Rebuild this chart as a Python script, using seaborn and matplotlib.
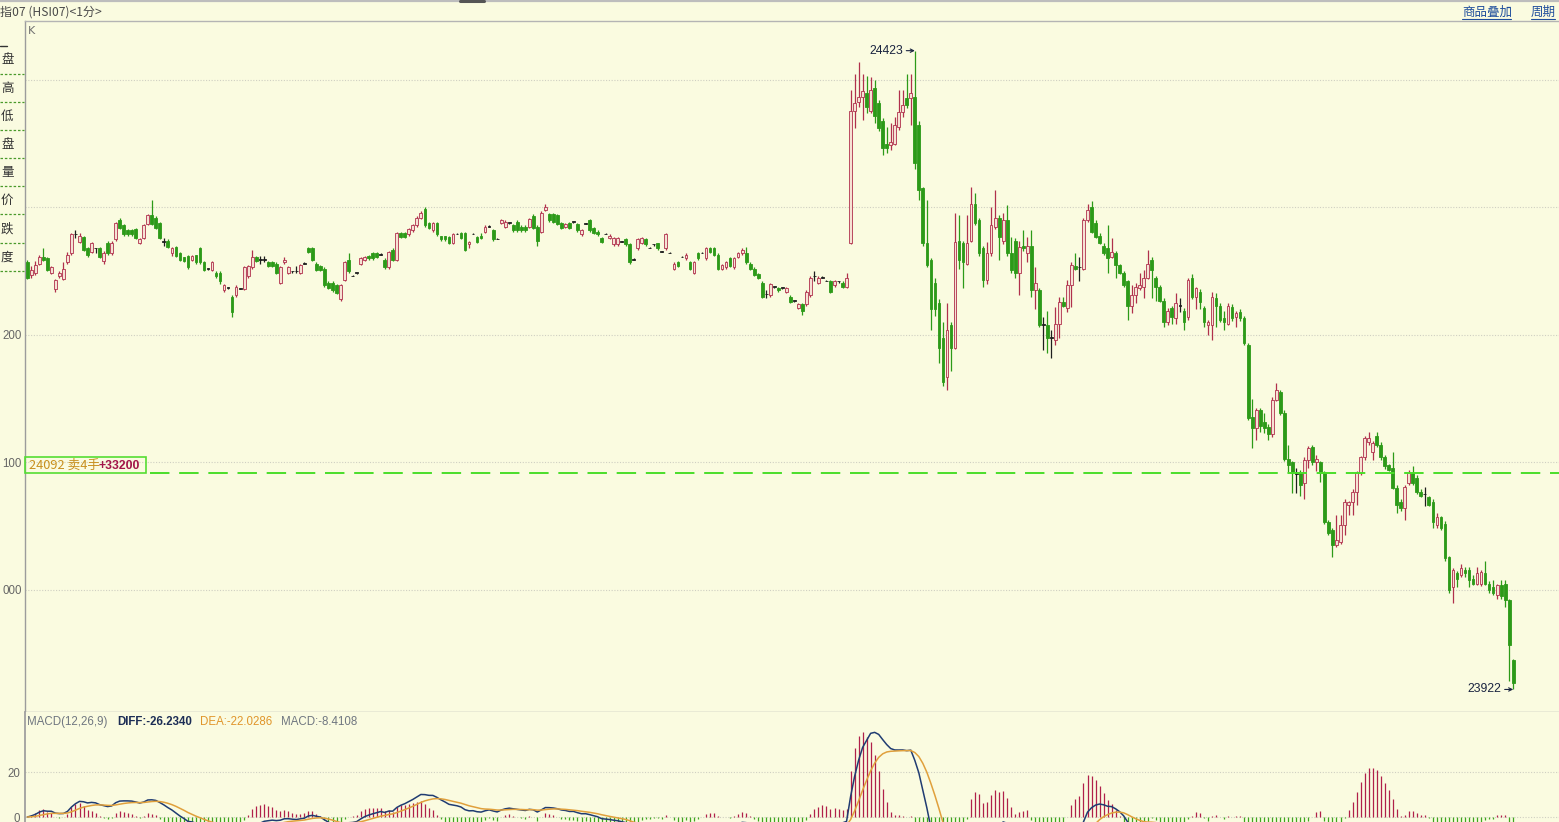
import numpy as np
import pandas as pd
import matplotlib
matplotlib.use("Agg")
import matplotlib.pyplot as plt
import seaborn as sns
from matplotlib.patches import Rectangle

# ---------------- data: 1-minute bars (open, high, low, close) ----------------
bars_a = [
    (24257,24259,24244,24245),(24247,24254,24245,24251),(24249,24258,24247,24255),(24256,24263,24255,24261),
    (24261,24268,24258,24259),(24260,24261,24250,24251),(24249,24254,24248,24253),(24236,24244,24234,24243),
    (24246,24250,24245,24249),(24244,24257,24243,24252),(24257,24265,24256,24263),(24264,24280,24263,24279),
    (24279,24282,24276,24279),(24273,24280,24272,24278),(24277,24278,24266,24267),(24268,24269,24261,24263),
    (24265,24273,24264,24272),(24268,24268,24264,24268),(24268,24269,24260,24261),(24258,24266,24256,24264),
    (24272,24274,24263,24264),(24264,24274,24263,24272),(24275,24289,24274,24288),(24290,24292,24283,24284),
    (24286,24287,24278,24279),(24282,24283,24278,24279),(24282,24283,24278,24279),(24283,24284,24275,24276),
    (24272,24276,24271,24275),(24276,24287,24275,24286),(24287,24295,24286,24294),(24294,24306,24286,24287),
    (24292,24293,24283,24284),(24288,24289,24275,24276),(24273,24276,24270,24273),(24274,24275,24268,24269),
    (24264,24269,24262,24268),(24269,24270,24261,24262),(24264,24265,24258,24259),(24261,24261,24257,24258),
    (24262,24263,24252,24253),(24259,24263,24258,24262),(24263,24263,24256,24257),(24268,24269,24256,24257),
    (24257,24258,24250,24251),(24252,24252,24251,24252),(24251,24258,24250,24257),(24249,24250,24245,24246),
    (24249,24250,24240,24242),(24235,24240,24234,24239),
]
bars_b = [
    (24237,24237,24236,24237),(24230,24231,24214,24218),(24231,24239,24230,24238),(24236,24237,24236,24236),
    (24236,24254,24235,24253),(24246,24255,24245,24254),(24253,24267,24252,24261),(24261,24262,24257,24258),
    (24259,24262,24256,24259),(24259,24262,24257,24259),(24257,24258,24253,24254),(24257,24258,24253,24254),
    (24256,24257,24248,24249),(24241,24254,24240,24253),(24257,24261,24256,24259),(24249,24254,24248,24253),
    (24250,24250,24249,24250),(24250,24254,24249,24250),(24249,24256,24248,24255),(24256,24257,24256,24256),
    (24268,24269,24264,24265),(24268,24269,24258,24259),(24256,24257,24250,24251),(24254,24255,24250,24251),
    (24252,24253,24238,24239),(24241,24242,24236,24237),(24241,24242,24234,24235),(24239,24240,24232,24233),
    (24228,24240,24227,24239),(24243,24258,24242,24257),(24259,24264,24249,24250),(24246,24247,24246,24246),
    (24249,24249,24248,24249),(24256,24261,24255,24260),(24259,24262,24258,24261),(24262,24263,24259,24260),
    (24264,24265,24259,24260),(24264,24265,24260,24261),(24263,24264,24263,24263),(24259,24260,24252,24253),
    (24253,24266,24252,24265),(24267,24268,24258,24259),(24259,24281,24258,24280),(24280,24281,24276,24277),
    (24280,24281,24276,24277),(24279,24284,24278,24283),(24282,24287,24281,24286),(24286,24293,24285,24292),
    (24292,24297,24291,24296),
]
bars_c = [
    (24299,24300,24285,24286),(24288,24289,24283,24284),(24282,24289,24281,24288),(24288,24289,24278,24279),
    (24278,24278,24274,24275),(24278,24278,24274,24275),(24277,24278,24271,24272),(24272,24280,24271,24279),
    (24279,24280,24279,24279),(24280,24281,24275,24276),(24280,24281,24266,24267),(24271,24274,24268,24273),
    (24279,24280,24279,24279),(24277,24278,24272,24273),(24278,24280,24275,24276),(24281,24286,24280,24285),
    (24285,24286,24285,24285),(24282,24283,24274,24275),(24275,24276,24275,24275),(24288,24291,24287,24290),
    (24285,24290,24284,24289),(24288,24288,24287,24288),(24286,24287,24281,24282),(24289,24290,24281,24282),
    (24285,24286,24281,24282),(24285,24286,24281,24282),(24285,24292,24284,24291),(24293,24295,24283,24284),
    (24285,24286,24270,24274),(24281,24297,24280,24296),(24298,24303,24297,24300),(24295,24296,24289,24290),
    (24295,24296,24288,24289),(24294,24295,24286,24287),(24288,24289,24283,24284),(24285,24288,24284,24287),
    (24288,24289,24283,24284),(24289,24289,24288,24289),(24287,24288,24281,24282),(24279,24283,24278,24282),
    (24287,24288,24287,24287),(24290,24291,24281,24282),(24284,24285,24279,24280),(24281,24282,24278,24279),
    (24276,24277,24272,24273),(24279,24280,24279,24279),(24276,24279,24275,24278),(24271,24277,24270,24276),
    (24271,24277,24270,24276),(24273,24274,24273,24273),(24275,24276,24270,24271),(24271,24272,24256,24257),
]
bars_d = [
    (24259,24260,24259,24259),(24268,24276,24267,24275),(24272,24277,24271,24276),(24275,24276,24270,24271),
    (24268,24269,24268,24268),(24271,24271,24270,24271),(24272,24272,24267,24268),(24265,24266,24265,24265),
    (24268,24280,24267,24279),(24264,24265,24264,24264),(24252,24257,24251,24256),(24257,24258,24253,24254),
    (24261,24262,24261,24261),(24260,24264,24259,24263),(24257,24258,24251,24252),(24249,24258,24248,24257),
    (24264,24265,24259,24260),(24264,24265,24264,24264),(24260,24269,24259,24268),(24268,24269,24264,24265),
    (24268,24269,24262,24263),(24263,24264,24251,24252),(24252,24256,24251,24255),(24253,24258,24252,24257),
    (24260,24261,24253,24254),(24253,24261,24252,24260),(24261,24265,24260,24264),(24264,24268,24263,24267),
    (24264,24269,24256,24257),(24256,24257,24251,24252),(24252,24253,24246,24247),(24248,24249,24244,24245),
    (24241,24242,24229,24230),(24232,24235,24229,24232),(24231,24241,24230,24240),(24238,24238,24237,24238),
    (24237,24238,24234,24235),(24237,24237,24236,24237),(24234,24238,24233,24237),(24230,24231,24225,24226),
    (24227,24227,24226,24227),(24221,24225,24220,24224),(24224,24225,24216,24219),(24224,24235,24223,24234),
    (24231,24246,24230,24245),(24246,24250,24242,24246),(24241,24246,24240,24245),(24245,24246,24245,24245),
    (24242,24243,24242,24242),(24242,24243,24233,24234),(24239,24243,24238,24242),(24242,24242,24241,24242),
    (24241,24242,24237,24238),(24238,24249,24237,24245),
]
bars_e = [
    (24272,24392,24271,24376),(24376,24405,24362,24382),(24383,24414,24379,24387),(24387,24405,24369,24391),
    (24390,24403,24374,24379),(24376,24402,24374,24392),(24394,24400,24366,24372),(24382,24384,24360,24362),
    (24368,24370,24341,24347),(24350,24363,24343,24347),(24349,24366,24345,24351),(24350,24371,24349,24365),
    (24363,24392,24361,24375),(24375,24392,24371,24380),(24386,24405,24378,24380),(24386,24405,24365,24390),
    (24387,24423,24330,24335),(24365,24368,24306,24314),(24315,24316,24270,24272),(24272,24306,24253,24255),
    (24259,24260,24204,24220),(24241,24245,24215,24220),(24225,24228,24178,24190),(24198,24210,24160,24163),
    (24167,24225,24157,24204),(24208,24210,24172,24190),(24190,24296,24189,24273),(24274,24294,24252,24259),
    (24272,24274,24237,24257),(24256,24294,24255,24272),(24274,24316,24273,24303),(24303,24311,24286,24288),
    (24290,24292,24262,24264),(24268,24270,24238,24243),(24243,24273,24240,24264),(24264,24300,24262,24286),
    (24285,24314,24283,24292),(24292,24294,24259,24277),(24274,24296,24271,24290),(24290,24302,24262,24264),
    (24264,24277,24249,24251),(24274,24276,24245,24249),(24249,24274,24231,24269),(24270,24282,24266,24268),
    (24264,24277,24257,24270),(24270,24282,24230,24235),(24235,24253,24220,24241),(24235,24237,24206,24208),
    (24208,24214,24188,24208),(24208,24219,24186,24198),(24198,24204,24182,24198),(24196,24222,24192,24209),
    (24209,24230,24198,24226),(24226,24230,24222,24223),(24221,24243,24218,24239),(24239,24257,24222,24255),
]
bars_f = [
    (24254,24264,24251,24252),(24253,24261,24242,24253),(24252,24292,24251,24290),(24290,24303,24289,24298),
    (24300,24305,24280,24281),(24288,24290,24276,24277),(24278,24280,24271,24272),(24270,24272,24263,24264),
    (24268,24286,24249,24260),(24261,24276,24260,24265),(24264,24266,24245,24255),(24255,24256,24248,24249),
    (24249,24250,24238,24239),(24242,24243,24212,24223),(24223,24239,24217,24231),(24231,24241,24225,24238),
    (24237,24249,24235,24239),(24238,24251,24229,24245),(24245,24267,24244,24256),(24259,24261,24229,24251),
    (24245,24246,24227,24238),(24238,24239,24226,24227),(24227,24229,24206,24210),(24210,24221,24208,24219),
    (24221,24223,24209,24214),(24213,24233,24209,24225),(24223,24229,24218,24223),(24219,24221,24204,24210),
    (24214,24245,24212,24243),(24245,24248,24228,24230),(24230,24238,24220,24237),(24234,24236,24220,24226),
    (24221,24223,24206,24210),(24208,24212,24200,24210),(24208,24234,24196,24230),(24229,24233,24206,24223),
    (24223,24225,24210,24212),(24213,24219,24204,24210),(24209,24225,24208,24223),(24222,24224,24211,24213),
    (24214,24219,24206,24217),(24218,24220,24211,24213),(24213,24215,24192,24194),(24192,24194,24133,24135),
]
bars_g = [
    (24136,24150,24111,24127),(24127,24143,24118,24141),(24141,24143,24124,24129),(24132,24139,24123,24127),
    (24128,24130,24118,24122),(24122,24151,24120,24149),(24149,24162,24148,24157),(24155,24157,24137,24139),
    (24139,24141,24101,24103),(24103,24114,24092,24098),(24100,24101,24076,24092),(24091,24096,24076,24091),
    (24092,24094,24074,24082),(24084,24104,24071,24102),(24102,24113,24096,24111),(24112,24114,24098,24100),
    (24100,24106,24093,24103),(24100,24101,24085,24092),(24092,24093,24052,24053),(24053,24055,24043,24045),
    (24047,24049,24026,24035),(24035,24059,24034,24039),(24038,24059,24036,24051),(24051,24071,24043,24069),
    (24067,24070,24059,24069),(24069,24079,24059,24077),(24077,24093,24067,24092),(24092,24105,24090,24104),
    (24104,24121,24102,24119),(24116,24124,24114,24119),(24108,24117,24102,24115),(24121,24124,24112,24114),
    (24114,24116,24102,24104),(24104,24106,24095,24097),(24098,24099,24093,24094),(24096,24108,24079,24080),
    (24080,24082,24060,24067),(24069,24071,24062,24064),(24064,24082,24055,24081),(24084,24094,24082,24092),
    (24092,24097,24082,24084),(24088,24090,24075,24077),(24077,24079,24073,24074),(24075,24081,24066,24075),
    (24073,24074,24066,24067),(24069,24071,24049,24053),(24051,24060,24049,24057),(24057,24058,24047,24049),
    (24052,24054,24023,24025),(24026,24027,23998,24000),(24002,24017,23990,24016),(24013,24015,24002,24009),
    (24012,24020,24010,24017),(24016,24018,24010,24013),(24016,24018,24002,24008),(24009,24012,24004,24005),
    (24005,24018,24004,24013),(24005,24016,24003,24014),(24013,24023,24004,24005),(24005,24007,23998,24000),
    (24002,24008,23996,23998),(23996,24005,23993,24004),(24004,24008,23993,23995),(24005,24008,23987,23992),
    (23992,23993,23929,23957),(23945,23946,23922,23927),
]

price_ticks = [24000, 24100, 24200]
price_tick_labels = ["000", "100", "200"]   # as visible at the clipped left edge
grid_levels = [24000, 24100, 24200, 24300, 24400]
order_price = 24092
order_text = "24092 卖4手"
order_pnl = "+33200"
macd_ticks = [0, 20]
sidebar_labels = ["盘", "高", "低", "盘", "量", "价", "跌", "度"]

# ---------------- styling ----------------
BG = "#fafbe0"
RED_E, RED_F = "#b0304c", "#f6e2d4"
GREEN = "#2c9a18"
DOJI = "#1e1e1e"
GRID = "#cfcfc2"
W, H = 1559, 822
NUMF = "Liberation Sans"

sns.set_theme(style="white", rc={"axes.facecolor": BG, "figure.facecolor": BG})
plt.rcParams["font.family"] = ["DejaVu Sans", "Noto Sans CJK SC"]
CJK = ["Noto Sans CJK SC", "DejaVu Sans"]

df = pd.DataFrame(bars_a + bars_b + bars_c + bars_d + bars_e + bars_f + bars_g,
                  columns=["o", "h", "l", "c"])
N = len(df)
df["i"] = np.arange(N)

# MACD(12,26,9)
ema12 = df["c"].ewm(span=12, adjust=False).mean()
ema26 = df["c"].ewm(span=26, adjust=False).mean()
df["diff"] = ema12 - ema26
df["dea"] = df["diff"].ewm(span=9, adjust=False).mean()
df["macd"] = 2 * (df["diff"] - df["dea"])

# pixel geometry of the candle positions
x0_px, x1_px = 27.3, 1513.2
step = (x1_px - x0_px) / (N - 1)
xlim = ((25 - x0_px) / step, (W - x0_px) / step)
ppx = 0.7843                       # price units per pixel
y_top = 24000 + (590 - 21) * ppx
y_bot = 24000 - (712 - 590) * ppx

fig = plt.figure(figsize=(W / 100, H / 100), dpi=100, facecolor=BG)
ax = fig.add_axes([25 / W, 1 - 712 / H, (W - 25) / W, (712 - 21) / H])
axm = fig.add_axes([25 / W, 0, (W - 25) / W, 110 / H])

# ---------------- candles ----------------
up = df["c"] > df["o"]
dn = df["c"] < df["o"]
wick_col = np.where(up, RED_E, np.where(dn, GREEN, DOJI))
face_col = np.where(up, RED_F, np.where(dn, GREEN, DOJI))
edge_col = np.where(up, RED_E, np.where(dn, GREEN, DOJI))
ax.vlines(df["i"], df["l"], df["h"], colors=wick_col, linewidth=0.9, zorder=2)
bottoms = np.minimum(df["o"], df["c"])
heights = np.maximum((df["c"] - df["o"]).abs(), 0.5)
ax.bar(df["i"], heights, bottom=bottoms, width=0.68, color=face_col,
       edgecolor=edge_col, linewidth=0.6, zorder=3)

for lv in grid_levels:
    ax.axhline(lv, color=GRID, lw=0.8, ls=(0, (1, 1.5)), zorder=1)

ax.plot([(150 - x0_px) / step, xlim[1]], [order_price, order_price],
        color="#4ade2a", lw=1.4, dashes=(10, 5), zorder=4)

ax.set_xlim(*xlim)
ax.set_ylim(y_bot, y_top)
ax.set_xticks([])
ax.set_yticks(price_ticks)
ax.set_yticklabels(price_tick_labels, fontfamily=NUMF)
ax.tick_params(axis="y", length=0, pad=2.4, labelsize=8.3, labelcolor="#666666")
ax.spines["right"].set_visible(False)
ax.spines["left"].set_color("#9c9c9c")
ax.spines["top"].set_color("#b4b4b4")
ax.spines["bottom"].set_color("#a8a8a8")
for s in ["left", "top", "bottom"]:
    ax.spines[s].set_linewidth(1.0)

# extreme labels
dark = "#1a2440"
imax = int(df["h"].idxmax())
imin = int(df["l"].idxmin())
for xi, yv in [(imax, df["h"].max()), (imin, df["l"].min())]:
    ax.annotate(f"{int(yv)}", xy=(xi, yv), xytext=(-8.5, 0),
                textcoords="offset points", ha="right", va="center", fontsize=8.8,
                color=dark, fontfamily=NUMF,
                arrowprops=dict(arrowstyle="->", color=dark, lw=0.8, shrinkA=0, shrinkB=0,
                                mutation_scale=6))

# ---------------- MACD panel ----------------
bar_col = np.where(df["macd"] >= 0, "#b0204a", "#3fa51f")
axm.vlines(df["i"], 0, df["macd"], colors=bar_col, linewidth=0.9, zorder=2)
sns.lineplot(data=df, x="i", y="diff", ax=axm, color="#203c72", lw=1.1, zorder=3)
sns.lineplot(data=df, x="i", y="dea", ax=axm, color="#e0a03c", lw=1.1, zorder=3)
for lv in macd_ticks:
    axm.axhline(lv, color=GRID, lw=0.8, ls=(0, (1, 1.5)), zorder=1)
axm.set_xlim(*xlim)
axm.set_ylim(-(822 - 817) / 2.25, (817 - 712) / 2.25)
axm.set_xlabel("")
axm.set_ylabel("")
axm.set_xticks([])
axm.set_yticks(macd_ticks)
axm.set_yticklabels([str(t) for t in macd_ticks], fontfamily=NUMF)
axm.tick_params(axis="y", length=0, pad=3.5, labelsize=8.3, labelcolor="#666666")
for s in ["right", "top", "bottom"]:
    axm.spines[s].set_visible(False)
axm.spines["left"].set_color("#9c9c9c")

# ---------------- overlay (header, sidebar, boxes) ----------------
ov = fig.add_axes([0, 0, 1, 1], zorder=10)
ov.set_xlim(0, W)
ov.set_ylim(H, 0)
ov.axis("off")
ov.patch.set_alpha(0)

ov.plot([0, W], [1, 1], color="#bdbdbd", lw=1.6)
ov.plot([460, 484], [1, 1], color="#555555", lw=2.2)
ov.text(0, 12, "指07 (HSI07)<1分>", fontsize=8.7, color="#4a4a4a", va="center",
        family=CJK)
ov.text(1462, 12, "商品叠加", fontsize=9, color="#1f4e9c", va="center", family=CJK)
ov.plot([1462, 1511], [19, 19], color="#1f4e9c", lw=0.8)
ov.text(1531, 12, "周期", fontsize=9, color="#1f4e9c", va="center", family=CJK)
ov.plot([1531, 1555], [19, 19], color="#1f4e9c", lw=0.8)
ov.text(28, 31, "K", fontsize=8, color="#707070", va="center")

# sidebar
ov.plot([0, 7], [46, 46], color="#333333", lw=1.0)
for k, lab in enumerate(sidebar_labels):
    yc = 60 + k * 28.1
    ov.text(1, yc, lab, fontsize=9, color="#333333", va="center", ha="left", family=CJK)
    ov.plot([0, 24], [yc + 14, yc + 14], color="#4a9a2a", lw=0.9, ls=(0, (2, 1.5)))

# order box
ov.add_patch(Rectangle((25.5, 457), 121, 16, fill=False, edgecolor="#55dd33", lw=1.2))
ov.text(29, 465.5, order_text, fontsize=9.2, color="#c8901e", va="center", family=CJK)
ov.text(99, 465.5, order_pnl, fontsize=8.8, color="#a3164a", va="center",
        fontweight="bold", fontfamily=NUMF)

# MACD header
ov.text(27, 722, "MACD(12,26,9)", fontsize=8.3, color="#6f7680", va="center", fontfamily=NUMF)
ov.text(117, 722, "DIFF:-26.2340", fontsize=8.3, color="#1c2d55", va="center",
        fontweight="bold", fontfamily=NUMF)
ov.text(200, 722, "DEA:-22.0286", fontsize=8.3, color="#e0952a", va="center", fontfamily=NUMF)
ov.text(281, 722, "MACD:-8.4108", fontsize=8.3, color="#6f7680", va="center", fontfamily=NUMF)

fig.savefig("out.png", dpi=100, facecolor=BG)
